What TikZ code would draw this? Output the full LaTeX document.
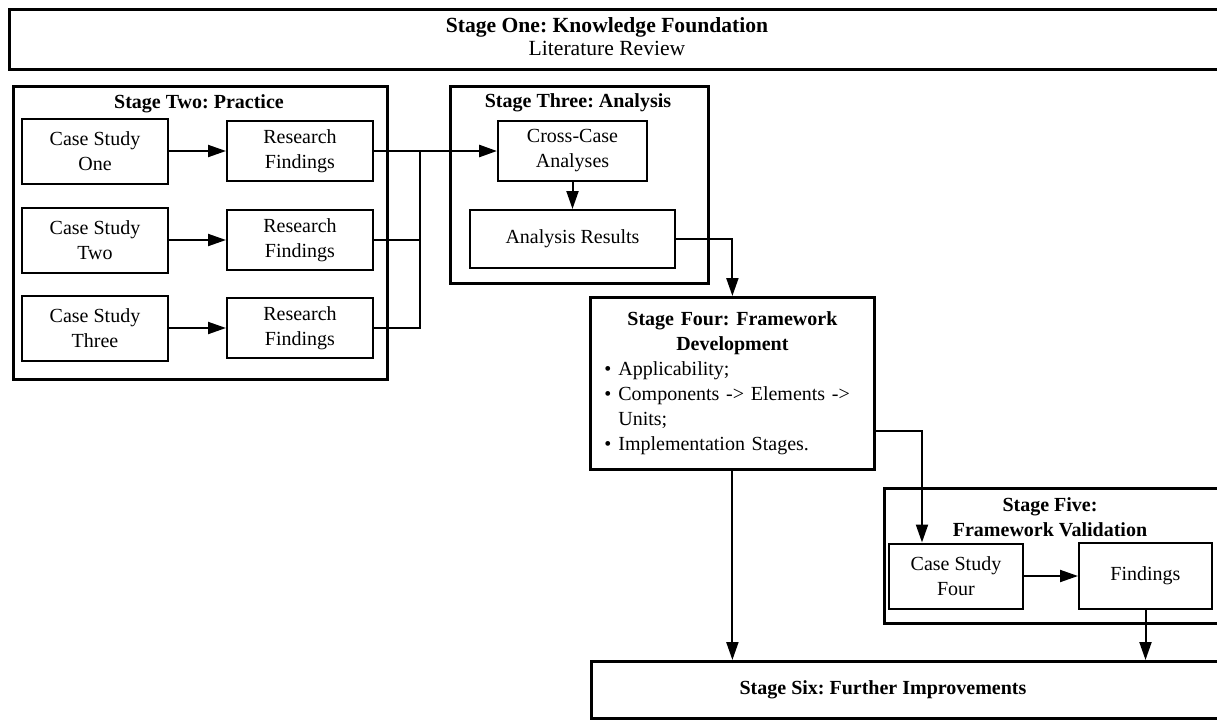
\documentclass[tikz,border=0pt]{standalone}
\usepackage{fontspec}
\setmainfont{Liberation Serif}
\usetikzlibrary{arrows.meta}
\begin{document}
\frenchspacing
\begin{tikzpicture}[x=0.5pt,y=-0.5pt,
  every node/.style={font=\fontsize{10}{12.5}\selectfont},
  stagebox/.style={draw, line width=1.4pt, inner sep=0pt},
  box/.style={draw, line width=1pt, align=center, inner sep=0pt},
  title/.style={font=\fontsize{10}{12.5}\selectfont\bfseries, align=center, inner sep=0pt},
  bigtitle/.style={title, font=\fontsize{10.8}{12.5}\selectfont\bfseries},
  plain/.style={inner sep=0pt, align=center},
  link/.style={line width=1.2pt},
  arr/.style={line width=1pt, -{Triangle[length=9pt,width=6pt]}}]

% canvas
\clip (0,0) rectangle (1217,719);
\fill[white] (0,0) rectangle (1217,719);

% Stage one banner (runs off the right edge)
\node[stagebox, anchor=north west, minimum width=616pt, minimum height=30pt] (s1) at (8,8) {};
\node[bigtitle] (s1t) at (607,27) {Stage One: Knowledge Foundation};
\node[plain, font=\fontsize{10.8}{12.5}\selectfont] (s1s) at (607,48) {Literature Review};

% Stage two: practice
\node[stagebox, anchor=north west, minimum width=187pt, minimum height=146.5pt] (s2) at (12,85) {};
\node[title] (s2t) at (199,104) {Stage Two: Practice};
\node[box, minimum width=73pt, minimum height=32.5pt] (cs1) at (95,151) {Case Study\\One};
\node[box, minimum width=73pt, minimum height=32.5pt] (cs2) at (95,240) {Case Study\\Two};
\node[box, minimum width=73pt, minimum height=32.5pt] (cs3) at (95,328) {Case Study\\Three};
\node[box, minimum width=73pt, minimum height=30pt] (rf1) at (300,151) {Research\\Findings};
\node[box, minimum width=73pt, minimum height=30pt] (rf2) at (300,240) {Research\\Findings};
\node[box, minimum width=73pt, minimum height=30pt] (rf3) at (300,328) {Research\\Findings};

% Stage three: analysis
\node[stagebox, anchor=north west, minimum width=129pt, minimum height=98.5pt] (s3) at (449,85) {};
\node[title] (s3t) at (578,103) {Stage Three: Analysis};
\node[box, minimum width=74.5pt, minimum height=30pt] (cc) at (572.5,151) {Cross-Case\\Analyses};
\node[box, minimum width=102.5pt, minimum height=29pt] (ar) at (572.5,239) {Analysis Results};

% Stage four: framework development
\node[stagebox, anchor=north west, minimum width=142pt, minimum height=86pt,
      text width=128pt, inner xsep=7pt, inner ysep=0pt, align=left] (s4) at (589,296)
  {{\centering\bfseries Stage Four: Framework\\Development\par}
   \makebox[7pt][l]{\textbullet}Applicability;\\
   \makebox[7pt][l]{\textbullet}Components -> Elements ->\\
   \hspace*{7pt}Units;\\
   \makebox[7pt][l]{\textbullet}Implementation Stages.};

% Stage five: framework validation
\node[stagebox, anchor=north west, minimum width=178.5pt, minimum height=67.5pt] (s5) at (883,487) {};
\node[title] (s5t) at (1050,517.5) {Stage Five:\\Framework Validation};
\node[box, minimum width=67pt, minimum height=32.5pt] (cs4) at (956,576) {Case Study\\Four};
\node[box, minimum width=66.5pt, minimum height=33pt] (fd) at (1145.5,576) {Findings};

% Stage six: further improvements
\node[stagebox, anchor=north west, minimum width=325pt, minimum height=28.5pt] (s6) at (590,660) {};
\node[title] (s6t) at (883,690) {Stage Six: Further Improvements};

% connectors
\draw[arr] (cs1) -- (rf1);
\draw[arr] (cs2) -- (rf2);
\draw[arr] (cs3) -- (rf3);
\coordinate (bus) at (420,151);
\draw[link] (rf2.east) -| (bus);
\draw[link] (rf3.east) -| (bus);
\draw[arr, line width=1.4pt] (rf1) -- (cc);
\draw[arr] (cc) -- (ar);
\draw[arr] (ar.east) -| (s4.north);
\draw[arr] ([yshift=-24pt]s4.east) -| ([xshift=17pt]cs4.north west);
\draw[arr] (s4.south) -- (s4.south |- s6.north);
\draw[arr] (cs4) -- (fd);
\draw[arr] (fd.south) -- (fd.south |- s6.north);
\end{tikzpicture}
\end{document}
